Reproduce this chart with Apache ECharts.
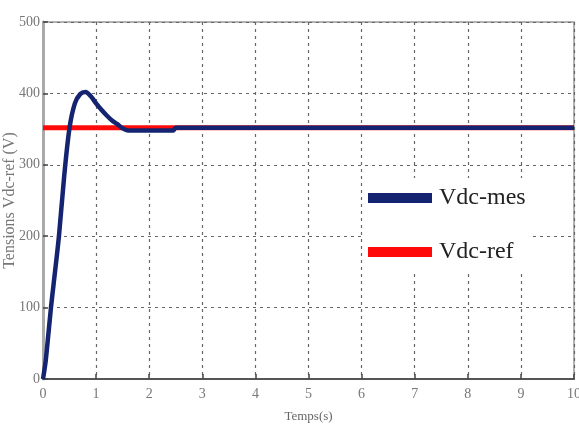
<!DOCTYPE html>
<html>
<head>
<meta charset="utf-8">
<script src="https://cdn.jsdelivr.net/npm/echarts@6/dist/echarts.min.js"></script>
<style>
  html, body { margin: 0; padding: 0; background: #fff; }
  #chart { width: 579px; height: 429px; }
</style>
</head>
<body>
<div id="chart"></div>
<script>
// Measured DC-bus voltage response (time in s, voltage in V)
const timeMes = [0, 0.05, 0.1, 0.15, 0.2, 0.3, 0.4, 0.5, 0.6, 0.7, 0.8, 0.9, 1.0, 1.1, 1.2, 1.3, 1.4, 1.5, 1.6, 1.8, 2.0, 2.2, 2.45, 2.5, 4, 6, 8, 10];
const vdcMes  = [0, 25, 62, 100, 133, 200, 285, 352, 386, 399, 402, 396, 386, 377, 369, 362, 357, 351, 348, 348, 348, 348, 348, 352, 352, 352, 352, 352];

// Reference voltage
const timeRef = [0, 10];
const vdcRef  = [352, 352];

// Axis ticks
const xTicks = [0, 1, 2, 3, 4, 5, 6, 7, 8, 9, 10];
const yTicks = [0, 100, 200, 300, 400, 500];

const seriesNames = ['Vdc-mes', 'Vdc-ref'];

const pairs = (xs, ys) => xs.map((x, i) => [x, ys[i]]);

const chart = echarts.init(document.getElementById('chart'), null, { renderer: 'canvas' });

const tickFont = { fontFamily: 'Liberation Serif', fontSize: 14, color: '#777' };

chart.setOption({
  animation: false,
  backgroundColor: '#fff',
  grid: {
    left: 43, right: 5, top: 22, bottom: 50,
    containLabel: false,
    outerBoundsMode: 'none',
    show: true, borderColor: '#999', borderWidth: 1.5
  },
  legend: {
    data: seriesNames,
    orient: 'vertical',
    left: 364, top: 178,
    icon: 'rect',
    itemWidth: 64, itemHeight: 10,
    itemGap: 30,
    padding: [8, 4, 10, 4],
    backgroundColor: '#fff',
    textStyle: { fontFamily: 'Liberation Serif', fontSize: 24, color: '#222', padding: [0, 0, 0, 2] }
  },
  xAxis: {
    type: 'value',
    min: xTicks[0], max: xTicks[xTicks.length - 1], interval: 1,
    name: 'Temps(s)', nameLocation: 'middle', nameGap: 31, nameMoveOverlap: false,
    nameTextStyle: { fontFamily: 'Liberation Serif', fontSize: 13, color: '#666' },
    axisLine: { show: true, lineStyle: { color: '#555', width: 2 } },
    axisTick: { show: true, inside: true, length: 5, lineStyle: { color: '#444', width: 1.5 } },
    axisLabel: Object.assign({ margin: 8 }, tickFont),
    splitLine: { show: true, lineStyle: { color: '#666', width: 1.2, type: [3, 4] } }
  },
  yAxis: {
    type: 'value',
    min: yTicks[0], max: yTicks[yTicks.length - 1], interval: 100,
    name: 'Tensions Vdc-ref (V)', nameLocation: 'middle', nameGap: 25, nameRotate: 90, nameMoveOverlap: false,
    nameTextStyle: { fontFamily: 'Liberation Serif', fontSize: 16, color: '#777' },
    axisLine: { show: true, lineStyle: { color: '#aaa', width: 3 } },
    axisTick: { show: true, inside: true, length: 5, lineStyle: { color: '#444', width: 1.5 } },
    axisLabel: Object.assign({ margin: 3 }, tickFont),
    splitLine: { show: true, lineStyle: { color: '#666', width: 1.2, type: [3, 4] } }
  },
  series: [
    {
      name: seriesNames[1],
      type: 'line',
      data: pairs(timeRef, vdcRef),
      showSymbol: false,
      lineStyle: { color: '#ff0a0a', width: 5 },
      itemStyle: { color: '#ff0a0a' },
      z: 2
    },
    {
      name: seriesNames[0],
      type: 'line',
      data: pairs(timeMes, vdcMes),
      smooth: 0.3,
      showSymbol: false,
      lineStyle: { color: '#142470', width: 4.5 },
      itemStyle: { color: '#142470' },
      z: 3
    }
  ]
});
</script>
</body>
</html>
